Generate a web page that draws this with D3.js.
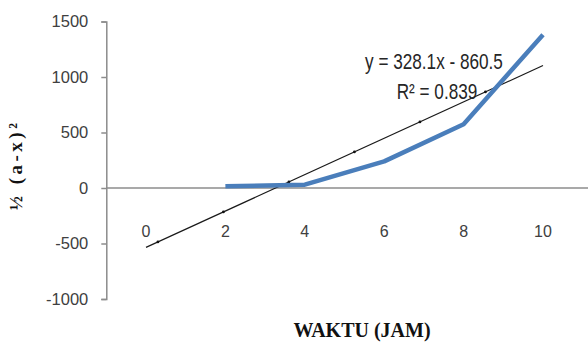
<!DOCTYPE html>
<html>
<head>
<meta charset="utf-8">
<script src="https://cdn.jsdelivr.net/npm/d3@7"></script>
<style>
  html, body { margin: 0; padding: 0; background: #fff; }
  svg { display: block; }
</style>
</head>
<body>
<svg id="chart" width="588" height="345"></svg>
<script>
// Time in hours and the measured ½(a-x)² values
const waktu = [2, 4, 6, 8, 10];
const nilai = [15, 30, 240, 575, 1380];

// Axis tick labels
const xTicks = [0, 2, 4, 6, 8, 10];
const yTicks = [-1000, -500, 0, 500, 1000, 1500];

// Trendline annotation text
const eqText = "y = 328.1x - 860.5";
const r2Text = "R² = 0.839";

const svg = d3.select("#chart");

const x = d3.scaleLinear().domain([0, 10]).range([146, 543]);
const y = d3.scaleLinear().domain([-1000, 1500]).range([299, 21.5]);

const axisGrey = "#8c8c8c";
const labelGrey = "#404040";

// Horizontal zero line across the plot
svg.append("line")
  .attr("x1", x(-1)).attr("x2", 588)
  .attr("y1", y(0)).attr("y2", y(0))
  .attr("stroke", axisGrey).attr("stroke-width", 1.5);

// Vertical value axis (plain hyphen for negatives)
const yAxis = svg.append("g")
  .attr("transform", `translate(${x(-1)},0)`)
  .call(d3.axisLeft(y).tickValues(yTicks).tickSize(5).tickPadding(13)
        .tickFormat(d => String(d)));
yAxis.select(".domain").attr("stroke", axisGrey).attr("stroke-width", 1.5);
yAxis.selectAll(".tick line").attr("stroke", axisGrey).attr("stroke-width", 1.5);
yAxis.selectAll(".tick text")
  .attr("fill", labelGrey)
  .style("font-family", "'Liberation Sans', Arial, sans-serif")
  .style("font-size", "16.5px");

// Category labels sitting below the zero line
svg.append("g").selectAll("text")
  .data(xTicks).join("text")
  .attr("x", d => x(d))
  .attr("y", 237)
  .attr("text-anchor", "middle")
  .attr("fill", labelGrey)
  .style("font-family", "'Liberation Sans', Arial, sans-serif")
  .style("font-size", "16px")
  .text(d => d);

// Least-squares trendline through the measurements
const mx = d3.mean(waktu), my = d3.mean(nilai);
const slope = d3.sum(waktu, (d, i) => (d - mx) * (nilai[i] - my)) /
              d3.sum(waktu, d => (d - mx) * (d - mx));
const intercept = my - slope * mx;
const trendX = [0, 10];
svg.append("path")
  .datum(trendX)
  .attr("fill", "none")
  .attr("stroke", "#1a1a1a")
  .attr("stroke-width", 1.2)
  .attr("d", d3.line().x(d => x(d)).y(d => y(slope * d + intercept)));

// Small markers along the trendline
svg.append("g").selectAll("circle")
  .data(d3.range(0.3, 10, 1.65)).join("circle")
  .attr("cx", d => x(d))
  .attr("cy", d => y(slope * d + intercept))
  .attr("r", 1.4)
  .attr("fill", "#111");

// Measured data series
svg.append("path")
  .datum(waktu.map((d, i) => [d, nilai[i]]))
  .attr("fill", "none")
  .attr("stroke", "#4a7ebb")
  .attr("stroke-width", 4.5)
  .attr("stroke-linejoin", "round")
  .attr("d", d3.line().x(d => x(d[0])).y(d => y(d[1])));

// Trendline equation and R²
svg.append("text")
  .attr("transform", `translate(434,69) scale(0.78,1)`)
  .attr("text-anchor", "middle")
  .attr("fill", "#262626")
  .style("font-family", "'Liberation Sans', Arial, sans-serif")
  .style("font-size", "22px")
  .text(eqText);
svg.append("text")
  .attr("transform", `translate(437,99) scale(0.78,1)`)
  .attr("text-anchor", "middle")
  .attr("fill", "#262626")
  .style("font-family", "'Liberation Sans', Arial, sans-serif")
  .style("font-size", "22px")
  .text(r2Text);

// Axis titles
svg.append("text")
  .attr("x", 362).attr("y", 337)
  .attr("text-anchor", "middle")
  .attr("fill", "#111")
  .style("font-family", "'Liberation Serif', 'Times New Roman', serif")
  .style("font-weight", "bold")
  .style("font-size", "20px")
  .text("WAKTU (JAM)");

svg.append("text")
  .attr("transform", "translate(22,165) rotate(-90)")
  .attr("text-anchor", "middle")
  .attr("fill", "#111")
  .style("font-family", "'Liberation Serif', 'Times New Roman', serif")
  .style("font-weight", "bold")
  .style("font-size", "19px")
  .style("letter-spacing", "3.5px")
  .text("½ (a-x)²");
</script>
</body>
</html>
